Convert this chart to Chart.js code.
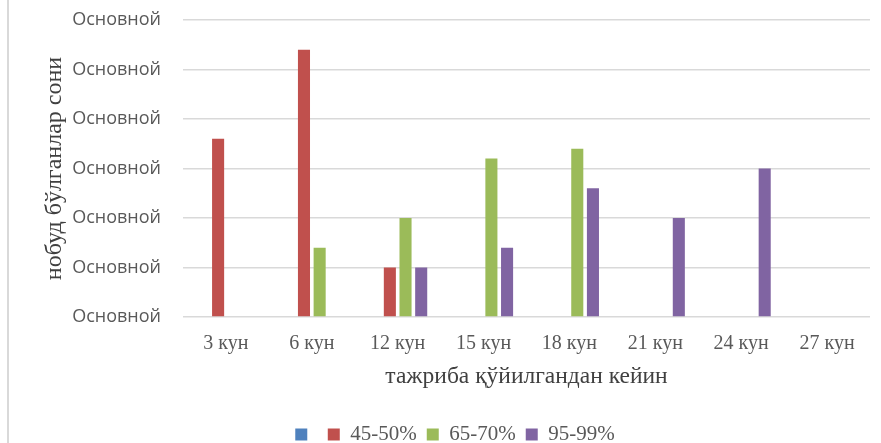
<!DOCTYPE html>
<html>
<head>
<meta charset="utf-8">
<script src="https://cdn.jsdelivr.net/npm/chart.js@4.4.1/dist/chart.umd.min.js"></script>
<style>
  html, body { margin: 0; padding: 0; background: #fff; }
  #wrap { position: relative; width: 881px; height: 443px; }
  #edge { position: absolute; left: 7px; top: 0; width: 2px; height: 443px; background: #d9d9d9; }
</style>
</head>
<body>
<div id="wrap">
  <div id="edge"></div>
  <canvas id="chart" width="881" height="443"></canvas>
</div>
<script>
// categories along the x axis
const categories = ["3 кун", "6 кун", "12 кун", "15 кун", "18 кун", "21 кун", "24 кун", "27 кун"];
// y tick labels as printed in the picture (placeholder text)
const yTickLabels = ["Основной", "Основной", "Основной", "Основной", "Основной", "Основной", "Основной"];
// series values (in gridline units)
const seriesBlank = [null, null, null, null, null, null, null, null];
const series45 = [3.6, 5.4, 1.0, null, null, null, null, null];
const series65 = [null, 1.4, 2.0, 3.2, 3.4, null, null, null];
const series95 = [null, null, 1.0, 1.4, 2.6, 2.0, 3.0, null];

const serif = "'Liberation Serif', 'DejaVu Serif', serif";

const ctx = document.getElementById("chart").getContext("2d");
new Chart(ctx, {
  type: "bar",
  data: {
    labels: categories,
    datasets: [
      { label: "", data: seriesBlank, backgroundColor: "#4F81BD" },
      { label: "45-50%", data: series45, backgroundColor: "#C0504D" },
      { label: "65-70%", data: series65, backgroundColor: "#9BBB59" },
      { label: "95-99%", data: series95, backgroundColor: "#8064A2" },
    ],
  },
  options: {
    responsive: false,
    animation: false,
    events: [],
    layout: { padding: { left: 40, right: 11, top: 20, bottom: -12 } },
    datasets: {
      bar: { categoryPercentage: 0.73, barPercentage: 0.77 },
    },
    scales: {
      x: {
        afterFit: (scale) => {
          scale.height = 97;
        },
        grid: { display: false },
        border: { display: false },
        ticks: {
          color: "#595959",
          font: { family: serif, size: 20 },
          padding: 7,
        },
        title: {
          display: true,
          text: "тажриба қўйилгандан кейин",
          color: "#404040",
          font: { family: serif, size: 23.5 },
          padding: { top: 0, bottom: 23 },
        },
      },
      y: {
        min: 0,
        max: 6,
        afterFit: (scale) => {
          scale.width = 143;
          scale.paddingTop = 0;
          scale.paddingBottom = 0;
        },
        ticks: {
          stepSize: 1,
          color: "#595959",
          font: { family: "'Open Sans', sans-serif", size: 18 },
          padding: 22,
          callback: (value, index) => yTickLabels[index],
        },
        grid: { color: "#d9d9d9", lineWidth: 1.5, drawTicks: false },
        border: { display: false },
        title: {
          display: true,
          text: "нобуд бўлганлар сони",
          color: "#404040",
          font: { family: serif, size: 24 },
          padding: { top: 0, bottom: 0 },
        },
      },
    },
    plugins: {
      legend: {
        position: "bottom",
        labels: {
          boxWidth: 12,
          boxHeight: 12,
          padding: 10,
          color: "#595959",
          font: { family: serif, size: 21 },
        },
      },
      tooltip: { enabled: false },
    },
  },
});
</script>
</body>
</html>
